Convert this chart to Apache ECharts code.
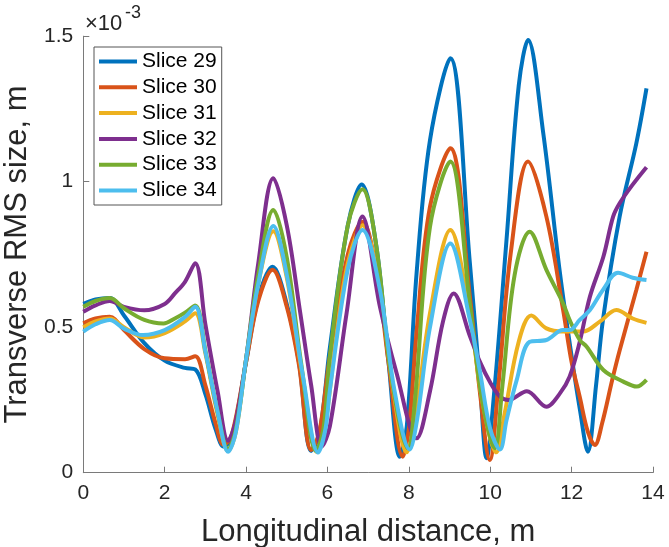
<!DOCTYPE html>
<html>
<head>
<meta charset="utf-8">
<script src="https://cdn.jsdelivr.net/npm/echarts@6/dist/echarts.min.js"></script>
<style>
html,body{margin:0;padding:0;background:#fff;}
#chart{width:669px;height:547px;}
</style>
</head>
<body>
<div id="chart"></div>
<script>
// values in units of 1e-3 m
const seriesNames = ['Slice 29','Slice 30','Slice 31','Slice 32','Slice 33','Slice 34'];
const xTicks = [0,2,4,6,8,10,12,14];
const yTicks = [0,0.5,1,1.5];

const slice29 = [[0,0.58],[0.3,0.595],[0.65,0.60],[1.0,0.54],[1.5,0.445],[2.0,0.385],[2.5,0.36],[2.75,0.355],[3.0,0.27],[3.25,0.15],[3.45,0.09],[3.65,0.12],[4.0,0.38],[4.3,0.6],[4.65,0.708],[5.0,0.58],[5.3,0.38],[5.6,0.075],[5.8,0.13],[6.06,0.43],[6.5,0.85],[6.84,0.99],[7.2,0.78],[7.5,0.38],[7.78,0.055],[7.95,0.16],[8.19,0.685],[8.52,1.143],[9.02,1.424],[9.5,0.72],[9.75,0.3],[9.91,0.05],[10.1,0.28],[10.4,0.8],[10.7,1.33],[10.93,1.487],[11.3,1.17],[11.71,0.69],[12.0,0.40],[12.2,0.22],[12.4,0.072],[12.6,0.30],[12.77,0.525],[13.18,0.88],[13.59,1.132],[13.84,1.321]];
const slice30 = [[0,0.513],[0.3,0.53],[0.65,0.536],[1.0,0.49],[1.5,0.425],[2.0,0.393],[2.5,0.39],[2.75,0.40],[3.0,0.30],[3.25,0.17],[3.45,0.095],[3.65,0.13],[4.0,0.38],[4.3,0.59],[4.65,0.697],[5.0,0.57],[5.3,0.37],[5.6,0.078],[5.8,0.14],[6.06,0.40],[6.5,0.75],[6.86,0.862],[7.2,0.70],[7.5,0.38],[7.85,0.055],[8.0,0.15],[8.2,0.5],[8.52,0.914],[9.02,1.115],[9.5,0.605],[9.74,0.284],[9.99,0.044],[10.2,0.30],[10.5,0.75],[10.93,1.069],[11.38,0.88],[11.79,0.56],[12.0,0.38],[12.2,0.26],[12.4,0.14],[12.57,0.095],[12.75,0.17],[13.0,0.32],[13.18,0.42],[13.59,0.628],[13.84,0.759]];
const slice31 = [[0,0.50],[0.3,0.52],[0.65,0.53],[1.0,0.50],[1.5,0.465],[2.0,0.48],[2.5,0.52],[2.75,0.548],[3.0,0.41],[3.3,0.2],[3.56,0.075],[3.75,0.14],[4.0,0.39],[4.3,0.65],[4.67,0.83],[5.0,0.67],[5.4,0.32],[5.75,0.07],[5.95,0.17],[6.2,0.45],[6.5,0.72],[6.86,0.85],[7.29,0.628],[7.6,0.3],[7.95,0.07],[8.15,0.18],[8.52,0.548],[9.02,0.834],[9.5,0.54],[9.8,0.25],[10.15,0.07],[10.35,0.2],[10.7,0.45],[11.01,0.54],[11.38,0.496],[11.79,0.485],[12.28,0.485],[12.7,0.52],[13.1,0.559],[13.5,0.53],[13.84,0.515]];
const slice32 = [[0,0.553],[0.3,0.575],[0.65,0.59],[1.0,0.57],[1.5,0.558],[2.0,0.58],[2.25,0.616],[2.5,0.656],[2.75,0.72],[3.0,0.51],[3.3,0.28],[3.56,0.11],[3.75,0.18],[4.0,0.39],[4.3,0.72],[4.67,1.012],[5.0,0.85],[5.32,0.56],[5.6,0.3],[5.86,0.09],[6.06,0.16],[6.47,0.548],[6.86,0.88],[7.29,0.57],[7.7,0.342],[8.19,0.118],[8.52,0.28],[8.84,0.52],[9.1,0.616],[9.5,0.47],[9.75,0.38],[10.0,0.31],[10.25,0.26],[10.45,0.25],[10.9,0.28],[11.38,0.227],[11.7,0.27],[11.95,0.33],[12.2,0.45],[12.45,0.605],[12.78,0.742],[13.02,0.88],[13.18,0.926],[13.5,0.99],[13.84,1.05]];
const slice33 = [[0,0.57],[0.3,0.59],[0.65,0.60],[1.0,0.565],[1.5,0.525],[1.97,0.513],[2.25,0.53],[2.5,0.55],[2.75,0.575],[3.0,0.42],[3.3,0.21],[3.56,0.08],[3.75,0.15],[4.0,0.39],[4.3,0.68],[4.67,0.903],[5.0,0.74],[5.35,0.38],[5.72,0.075],[5.9,0.15],[6.06,0.40],[6.5,0.85],[6.86,0.974],[7.2,0.78],[7.55,0.35],[7.98,0.084],[8.15,0.25],[8.52,0.845],[9.02,1.069],[9.5,0.58],[9.8,0.25],[10.11,0.084],[10.3,0.3],[10.6,0.68],[10.97,0.828],[11.38,0.697],[11.79,0.582],[11.95,0.525],[12.2,0.456],[12.37,0.433],[12.78,0.353],[13.27,0.313],[13.6,0.296],[13.84,0.319]];
const slice34 = [[0,0.485],[0.3,0.51],[0.65,0.525],[1.0,0.495],[1.47,0.473],[2.0,0.49],[2.5,0.535],[2.75,0.57],[3.0,0.416],[3.3,0.21],[3.56,0.072],[3.75,0.14],[4.0,0.39],[4.3,0.65],[4.67,0.848],[5.0,0.68],[5.4,0.33],[5.77,0.069],[5.95,0.15],[6.06,0.284],[6.5,0.7],[6.86,0.834],[7.29,0.628],[7.65,0.28],[8.02,0.08],[8.2,0.18],[8.52,0.50],[9.02,0.788],[9.5,0.525],[9.74,0.353],[10.0,0.15],[10.24,0.08],[10.4,0.18],[10.65,0.318],[10.97,0.45],[11.38,0.456],[11.79,0.49],[11.95,0.49],[12.2,0.525],[12.45,0.559],[12.77,0.628],[13.14,0.687],[13.5,0.67],[13.84,0.662]];

const allData = [slice29, slice30, slice31, slice32, slice33, slice34];
const colors = ['#0072BD','#D95319','#EDB120','#7E2F8E','#77AC30','#4DBEEE'];
const FONT = '"Liberation Sans", Arial, Helvetica, sans-serif';
const axisColor = '#7a7a7a';
const textColor = '#262626';

const chart = echarts.init(document.getElementById('chart'), null, {renderer:'canvas'});
chart.setOption({
  animation: false,
  color: colors,
  grid: {left: 83.3, right: 16, top: 36.2, bottom: 74.3, containLabel: false, outerBoundsMode: 'none'},
  legend: {
    orient: 'vertical',
    left: 94, top: 47,
    padding: [4, 5, 4, 5],
    itemGap: 4.8,
    itemWidth: 38, itemHeight: 4,
    icon: 'rect',
    backgroundColor: '#fff',
    borderColor: '#555', borderWidth: 1,
    textStyle: {fontFamily: FONT, fontSize: 21, color: '#000', lineHeight: 21},
    data: seriesNames
  },
  xAxis: {
    type: 'value', min: 0, max: 14, interval: 2,
    name: 'Longitudinal distance, m', nameLocation: 'middle', nameGap: 44,
    nameTextStyle: {fontFamily: FONT, fontSize: 31, color: textColor},
    axisLine: {show: true, lineStyle: {color: axisColor, width: 1}},
    axisTick: {show: true, inside: true, length: 6, lineStyle: {color: axisColor}},
    axisLabel: {fontFamily: FONT, fontSize: 21, color: textColor, margin: 10},
    splitLine: {show: false}
  },
  yAxis: {
    type: 'value', min: 0, max: 1.5, interval: 0.5,
    name: 'Transverse RMS size, m', nameLocation: 'middle', nameGap: 46,
    nameTextStyle: {fontFamily: FONT, fontSize: 31, color: textColor},
    axisLine: {show: true, lineStyle: {color: axisColor, width: 1}},
    axisTick: {show: true, inside: true, length: 6, lineStyle: {color: axisColor}},
    axisLabel: {fontFamily: FONT, fontSize: 21, color: textColor, margin: 10,
      formatter: v => String(v)},
    splitLine: {show: false}
  },
  graphic: [
    {type: 'text', left: 85, top: 13, style: {text: '×10', font: '22px ' + FONT, fill: textColor}},
    {type: 'text', left: 125, top: 4, style: {text: '-3', font: '18px ' + FONT, fill: textColor}}
  ],
  series: allData.map((d, i) => ({
    name: seriesNames[i],
    type: 'line',
    data: d,
    smooth: 0.35,
    showSymbol: false,
    symbol: 'none',
    lineStyle: {width: 4, color: colors[i]},
    itemStyle: {color: colors[i]}
  }))
});
</script>
</body>
</html>
